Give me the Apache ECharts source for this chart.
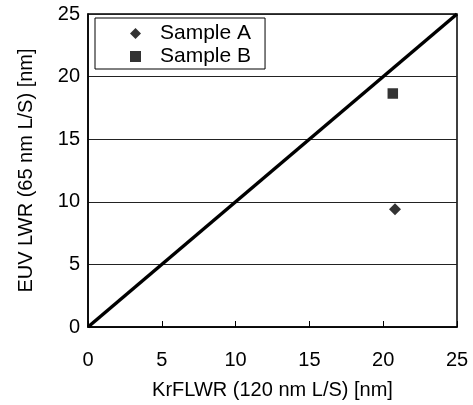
<!DOCTYPE html>
<html>
<head>
<meta charset="utf-8">
<script src="https://cdn.jsdelivr.net/npm/echarts@6/dist/echarts.min.js"></script>
<style>
  html, body { margin: 0; padding: 0; background: #fff; }
  #chart { width: 473px; height: 405px; }
</style>
</head>
<body>
<div id="chart"></div>
<script>
// Measured roughness values (nm)
const seriesNames = ['Sample A', 'Sample B'];
const sampleA = [[20.8, 9.4]];   // [KrF LWR, EUV LWR]
const sampleB = [[20.65, 18.65]];
const identityLine = [[0, 0], [25, 25]];
const tickValues = [0, 5, 10, 15, 20, 25];

const font = '"Liberation Sans", Arial, sans-serif';
const chart = echarts.init(document.getElementById('chart'), null, { renderer: 'canvas' });

chart.setOption({
  animation: false,
  backgroundColor: '#fff',
  textStyle: { fontFamily: font },
  grid: {
    left: 88, right: 16, top: 14, bottom: 78,
    show: true, borderColor: '#000', borderWidth: 1.5, backgroundColor: 'transparent'
  },
  legend: {
    orient: 'vertical',
    left: 95, top: 18,
    padding: [5, 14, 2, 35],
    itemGap: 2,
    itemWidth: 11, itemHeight: 11,
    borderColor: '#000', borderWidth: 1,
    backgroundColor: '#fff',
    textStyle: { fontFamily: font, fontSize: 21, color: '#000', padding: [0, 0, 0, 14] },
    data: [
      { name: seriesNames[0], icon: 'diamond' },
      { name: seriesNames[1], icon: 'rect' }
    ]
  },
  xAxis: {
    type: 'value', min: tickValues[0], max: tickValues[tickValues.length - 1], interval: 5,
    name: 'KrFLWR (120 nm L/S) [nm]',
    nameLocation: 'middle', nameGap: 53,
    nameTextStyle: { fontFamily: font, fontSize: 20, color: '#000' },
    axisLine: { show: true, onZero: false, lineStyle: { color: '#000', width: 1.5 } },
    axisTick: { show: true, inside: true, length: 6, lineStyle: { color: '#000', width: 1 } },
    axisLabel: { fontFamily: font, fontSize: 20, color: '#000', margin: 23 },
    splitLine: { show: false }
  },
  yAxis: {
    type: 'value', min: tickValues[0], max: tickValues[tickValues.length - 1], interval: 5,
    name: 'EUV LWR (65 nm L/S) [nm]',
    nameLocation: 'middle', nameGap: 52,
    nameTextStyle: { fontFamily: font, fontSize: 20, color: '#000' },
    axisLine: { show: true, onZero: false, lineStyle: { color: '#000', width: 1.5 } },
    axisTick: { show: false },
    axisLabel: { fontFamily: font, fontSize: 20, color: '#000', margin: 8 },
    splitLine: { show: true, lineStyle: { color: '#222', width: 1 } }
  },
  series: [
    {
      name: 'y = x',
      type: 'line',
      data: identityLine,
      showSymbol: false,
      symbol: 'none',
      lineStyle: { color: '#000', width: 3.5 },
      z: 3
    },
    {
      name: seriesNames[0],
      type: 'scatter',
      data: sampleA,
      symbol: 'diamond',
      symbolSize: 12,
      itemStyle: { color: '#000' },
      z: 4
    },
    {
      name: seriesNames[1],
      type: 'scatter',
      data: sampleB,
      symbol: 'rect',
      symbolSize: 10.5,
      itemStyle: { color: '#000' },
      z: 4
    }
  ]
});
</script>
</body>
</html>
